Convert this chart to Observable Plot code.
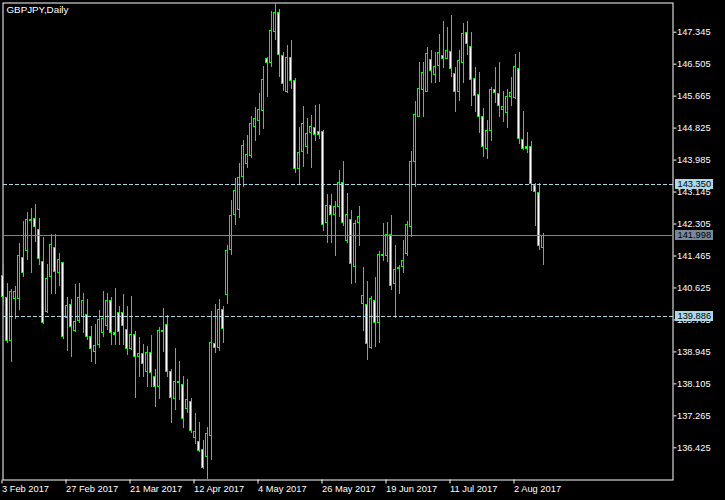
<!DOCTYPE html>
<html>
<head>
<meta charset="utf-8">
<script src="https://cdn.jsdelivr.net/npm/d3@7"></script>
<script src="https://cdn.jsdelivr.net/npm/@observablehq/plot@0.6"></script>
<style>
  html, body { margin: 0; padding: 0; background: #000; }
  #chart { width: 725px; height: 500px; }
</style>
</head>
<body>
<div id="chart"></div>
<script>
// ---- Data (GBPJPY daily) ----
const symbolTitle = "GBPJPY,Daily";

const openP = [
140.95,140.37,139.23,140.33,140.33,141.43,141.59,142.42,142.44,142.15,
141.33,139.99,140.89,141.70,141.01,141.29,139.82,140.18,139.49,139.75,
139.84,139.92,139.35,138.94,139.10,139.44,139.61,140.30,139.46,139.98,
139.99,139.53,139.00,139.40,138.81,138.90,138.41,138.92,138.30,138.02,
139.51,139.67,138.43,137.69,138.17,138.08,137.44,137.63,136.66,136.59,
136.37,136.18,136.73,139.16,139.03,140.05,140.42,141.61,142.53,142.66,
143.52,143.86,144.09,144.83,145.01,145.27,146.65,146.52,147.35,147.86,
146.73,145.75,146.69,146.08,143.73,144.19,144.31,144.68,144.83,144.73,
144.74,142.31,142.78,142.52,142.75,143.40,141.85,142.42,141.16,142.31,
140.18,140.18,139.03,140.30,139.68,141.51,141.46,142.02,140.71,141.10,
141.16,141.51,142.22,143.91,145.11,145.81,145.77,146.62,146.22,146.45,
146.73,146.64,146.84,146.25,145.75,146.52,147.33,146.96,146.12,145.70,
145.13,144.26,144.74,145.83,145.73,145.28,145.22,145.64,145.59,146.38,
144.52,144.34,144.34,143.31,143.13,141.65];

const highP = [
141.24,140.74,140.58,140.66,141.80,142.38,142.61,142.71,142.82,142.45,
141.94,141.24,142.03,142.03,141.52,141.30,140.37,140.31,140.72,140.74,
140.47,140.31,139.61,139.67,140.03,140.53,140.47,140.38,140.61,140.14,
140.45,140.14,140.40,139.49,139.32,139.14,139.09,139.38,138.48,139.58,
140.08,139.90,138.48,139.03,138.69,138.31,138.23,137.72,137.32,137.09,
136.62,136.95,140.01,140.19,140.31,140.14,141.74,142.92,143.50,143.90,
144.50,144.63,145.13,145.36,145.73,146.44,146.69,147.89,148.10,147.93,
146.82,147.00,147.13,146.13,144.85,145.39,145.09,145.16,145.42,145.45,
144.76,143.08,143.07,142.90,143.71,143.95,143.10,142.66,142.40,142.77,
141.15,140.80,140.40,140.90,141.57,142.31,142.35,142.53,141.74,141.22,
141.87,142.37,144.21,145.53,146.55,146.55,146.95,146.86,146.81,147.29,
147.63,147.47,147.78,146.41,146.86,147.57,147.63,147.34,146.43,146.29,
145.33,145.03,145.89,146.43,146.55,145.79,145.84,146.16,146.76,146.81,
145.27,144.71,144.47,143.36,143.36,142.06];

const lowP = [
140.17,139.16,138.67,139.79,140.02,140.91,141.35,141.00,141.83,141.22,
139.67,139.96,140.45,140.45,140.66,139.26,138.96,138.81,139.46,139.70,
139.44,139.25,138.67,138.61,139.03,139.33,139.51,139.11,139.10,139.11,
139.11,138.85,138.98,137.73,138.27,138.27,138.02,138.02,137.49,137.70,
138.94,138.28,137.06,137.41,137.67,136.93,137.33,136.81,136.51,136.31,
135.85,135.59,136.09,138.91,138.96,139.17,140.19,141.48,142.27,142.45,
143.27,143.77,144.02,144.48,144.63,144.78,145.64,146.43,147.13,146.15,
145.80,145.74,145.83,143.63,143.32,143.80,144.13,143.76,144.48,144.52,
142.12,141.79,141.80,141.46,142.48,142.24,141.79,140.71,140.74,141.72,
139.49,138.72,139.00,139.07,139.17,141.33,141.30,140.56,139.83,140.44,
141.00,141.46,141.94,143.26,145.10,145.11,145.76,145.99,145.99,146.03,
146.38,146.62,146.16,145.24,145.53,146.01,146.73,145.38,145.24,144.68,
144.05,144.01,144.46,145.48,145.11,144.98,144.81,145.40,145.58,144.39,
144.24,144.17,143.16,142.25,141.61,141.22];

const closeP = [
140.38,139.23,140.53,140.53,141.47,141.00,142.42,142.38,142.21,141.37,
139.68,140.87,141.76,141.04,141.37,139.33,140.16,139.58,139.75,140.37,
140.30,139.33,139.00,139.11,139.79,139.82,140.30,139.44,139.38,139.46,
139.62,139.00,139.40,138.81,138.90,138.61,138.92,138.37,138.02,139.51,
139.46,138.41,137.71,138.17,138.12,137.18,137.69,136.86,136.85,136.34,
135.87,136.79,139.19,139.04,140.05,139.53,141.61,142.53,143.19,143.53,
144.36,144.12,144.94,145.07,145.31,146.09,146.52,147.38,147.86,146.73,
145.96,146.69,146.06,143.73,144.19,144.94,144.68,144.87,144.62,144.62,
142.27,142.78,142.52,142.77,143.40,142.31,142.55,141.23,142.33,142.50,
140.43,139.13,140.34,139.68,141.51,141.46,142.02,140.67,141.10,141.17,
141.35,142.29,143.95,145.18,145.87,146.29,146.78,146.32,146.44,146.80,
146.64,146.86,146.36,145.75,146.59,147.30,147.03,146.08,145.66,145.11,
144.32,144.76,145.84,145.73,145.38,145.39,145.66,145.75,146.44,144.52,
144.26,144.27,143.34,143.13,141.72,141.998];

const dateTickIndex  = [0, 16, 32, 48, 64, 80, 96, 112, 128];
const dateTickLabels = ["3 Feb 2017","27 Feb 2017","21 Mar 2017","12 Apr 2017","4 May 2017",
                        "26 May 2017","19 Jun 2017","11 Jul 2017","2 Aug 2017"];

const priceTicks = [147.345,146.505,145.665,144.825,143.985,143.145,142.305,
                    141.465,140.625,139.785,138.945,138.105,137.265,136.425];

const dashedLevels = [143.350, 139.886];
const bidLevel = 141.998;

// ---- Build rows ----
const rows = openP.map((o, i) => ({i, open: o, high: highP[i], low: lowP[i], close: closeP[i]}));
const bulls = rows.filter(d => d.close >= d.open);
const bears = rows.filter(d => d.close < d.open);

const GREEN = "#00ff00";
const FONT = "'Liberation Sans', Arial, sans-serif";

const markers = [
  {price: dashedLevels[0], bg: "#add8e6", fg: "#000000"},
  {price: bidLevel,        bg: "#778899", fg: "#000000"},
  {price: dashedLevels[1], bg: "#add8e6", fg: "#000000"}
];

function priceBoxes(index, scales, values, dimensions) {
  const g = d3.create("svg:g");
  const xr = dimensions.width - dimensions.marginRight;
  for (const m of markers) {
    const y = Math.round(scales.y(m.price));
    g.append("rect").attr("x", xr + 2.5).attr("y", y - 5).attr("width", 38).attr("height", 10)
      .attr("fill", m.bg);
    g.append("text").attr("x", xr + 5).attr("y", y).attr("dy", "0.36em")
      .attr("text-anchor", "start")
      .attr("fill", m.fg).attr("font-size", "9.3px").attr("font-family", FONT)
      .text(m.price.toFixed(3));
  }
  return g.node();
}

const bodyX1 = d => d.i - 0.375;
const bodyX2 = d => d.i + 0.375;

const chart = Plot.plot({
  width: 725,
  height: 500,
  marginTop: 2.5,
  marginLeft: 2.5,
  marginRight: 52.5,
  marginBottom: 20.5,
  style: {background: "#000", color: "#fff", fontFamily: FONT, fontSize: "9.3px"},
  x: {type: "linear", domain: [0, 135], range: [2.5, 542.5]},
  y: {type: "linear", domain: [136.425, 147.345], range: [447.3, 31.7]},
  marks: [
    Plot.frame({stroke: "#fff"}),
    Plot.axisY({anchor: "right", ticks: priceTicks, tickFormat: d => d.toFixed(3),
                tickSize: 3, tickPadding: 1, label: null, color: "#fff"}),
    Plot.axisX({ticks: dateTickIndex, tickFormat: d => dateTickLabels[dateTickIndex.indexOf(d)],
                tickSize: 4, tickPadding: 1, textAnchor: "start", dx: -1, label: null, color: "#fff"}),
    // wicks
    Plot.ruleX(rows, {x: "i", y1: "low", y2: "high", stroke: GREEN, strokeWidth: 1, shapeRendering: "crispEdges"}),
    // body outline (green), then 1px-inset fill
    Plot.rect(rows, {x1: bodyX1, x2: bodyX2, y1: "open", y2: "close", fill: GREEN, shapeRendering: "crispEdges"}),
    Plot.rect(bulls, {x1: bodyX1, x2: bodyX2, y1: "open", y2: "close", fill: "#000",
                      inset: 1, shapeRendering: "crispEdges"}),
    Plot.rect(bears, {x1: bodyX1, x2: bodyX2, y1: "open", y2: "close", fill: "#fff",
                      inset: 1, shapeRendering: "crispEdges"}),
    Plot.ruleY(dashedLevels, {stroke: "#add8e6", strokeDasharray: "4,2", shapeRendering: "crispEdges"}),
    Plot.ruleY([bidLevel], {stroke: "#778899", shapeRendering: "crispEdges"}),
    Plot.text([symbolTitle], {frameAnchor: "top-left", text: d => d, dx: 3.5, dy: 3,
                              lineAnchor: "top", textAnchor: "start", fill: "#fff", fontSize: 9.8}),
    priceBoxes
  ]
});

document.getElementById("chart").appendChild(chart);
</script>
</body>
</html>
